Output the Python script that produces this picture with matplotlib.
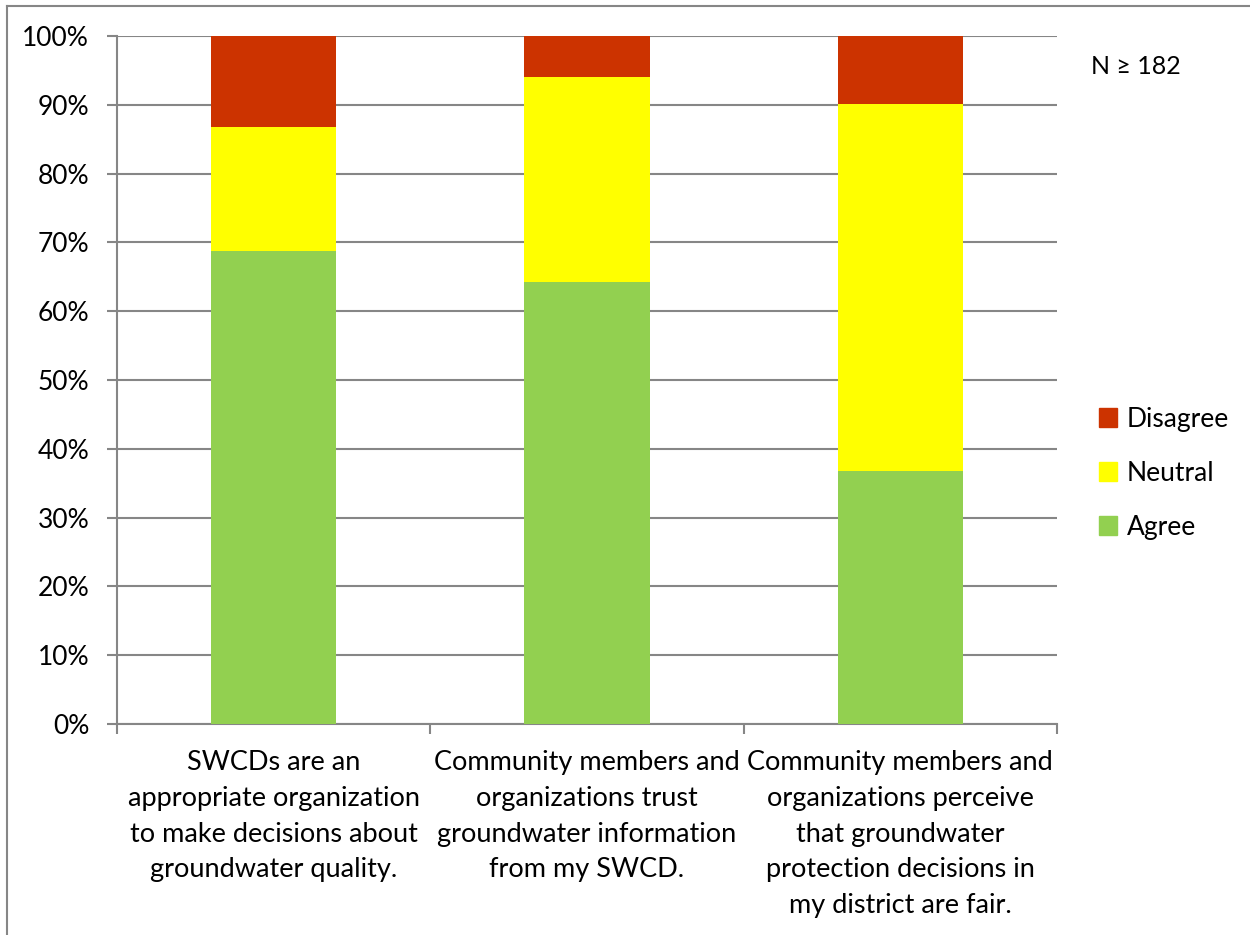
import matplotlib.pyplot as plt
from matplotlib.patches import Patch
from matplotlib.lines import Line2D

categories = [
    "SWCDs are an\nappropriate organization\nto make decisions about\ngroundwater quality.",
    "Community members and\norganizations trust\ngroundwater information\nfrom my SWCD.",
    "Community members and\norganizations perceive\nthat groundwater\nprotection decisions in\nmy district are fair.",
]
agree = [68.8, 64.3, 36.8]
neutral = [18.0, 29.7, 53.3]
disagree = [13.2, 6.0, 9.9]
series_names = ["Agree", "Neutral", "Disagree"]
colors = ["#92D050", "#FFFF00", "#CC3300"]

plt.rcParams['font.family'] = ['Lato', 'DejaVu Sans']

fig = plt.figure(figsize=(12.5, 9.35), dpi=100)
ax = fig.add_axes([0.0936, 0.2257, 0.752, 0.7358])

x = list(range(len(categories)))
bottom = [0, 0, 0]
for vals, name, c in zip([agree, neutral, disagree], series_names, colors):
    ax.bar(x, vals, width=0.4, bottom=bottom, color=c, label=name, zorder=3)
    bottom = [b + v for b, v in zip(bottom, vals)]

ax.set_xlim(-0.5, 2.5)
ax.set_ylim(0, 100)
ax.set_yticks(range(0, 101, 10))
ax.set_yticklabels([f"{v}%" for v in range(0, 101, 10)], fontsize=19)
ax.yaxis.grid(True, color="#868686", linewidth=1.5, zorder=0)

ax.set_xticks(x)
ax.set_xticklabels(categories, fontsize=19.5, linespacing=1.53)
ax.set_xticks([-0.5, 0.5, 1.5, 2.5], minor=True)
ax.tick_params(axis='x', which='major', length=0, pad=19)
ax.tick_params(axis='x', which='minor', length=7, width=1.5, color="#868686")
ax.tick_params(axis='y', length=7, width=1.5, color="#868686", pad=13)

for s in ['top', 'right']:
    ax.spines[s].set_visible(False)
for s in ['left', 'bottom']:
    ax.spines[s].set_color("#868686")
    ax.spines[s].set_linewidth(1.5)

handles = [Patch(color=c) for c in colors][::-1]
fig.legend(handles, series_names[::-1], loc='center left',
           bbox_to_anchor=(0.86, 0.494), frameon=False, fontsize=19,
           handlelength=0.7, handleheight=0.7, handletextpad=0.35,
           labelspacing=1.1)

fig.text(0.873, 0.929, "N \u2265 182", fontsize=18, va='center', ha='left')

# outer chart border
fig.add_artist(Line2D([0.0056, 0.0056], [0, 0.994], color="#868686", lw=1.5))
fig.add_artist(Line2D([0.0056, 1], [0.994, 0.994], color="#868686", lw=1.5))

fig.savefig("out.png", dpi=100)
